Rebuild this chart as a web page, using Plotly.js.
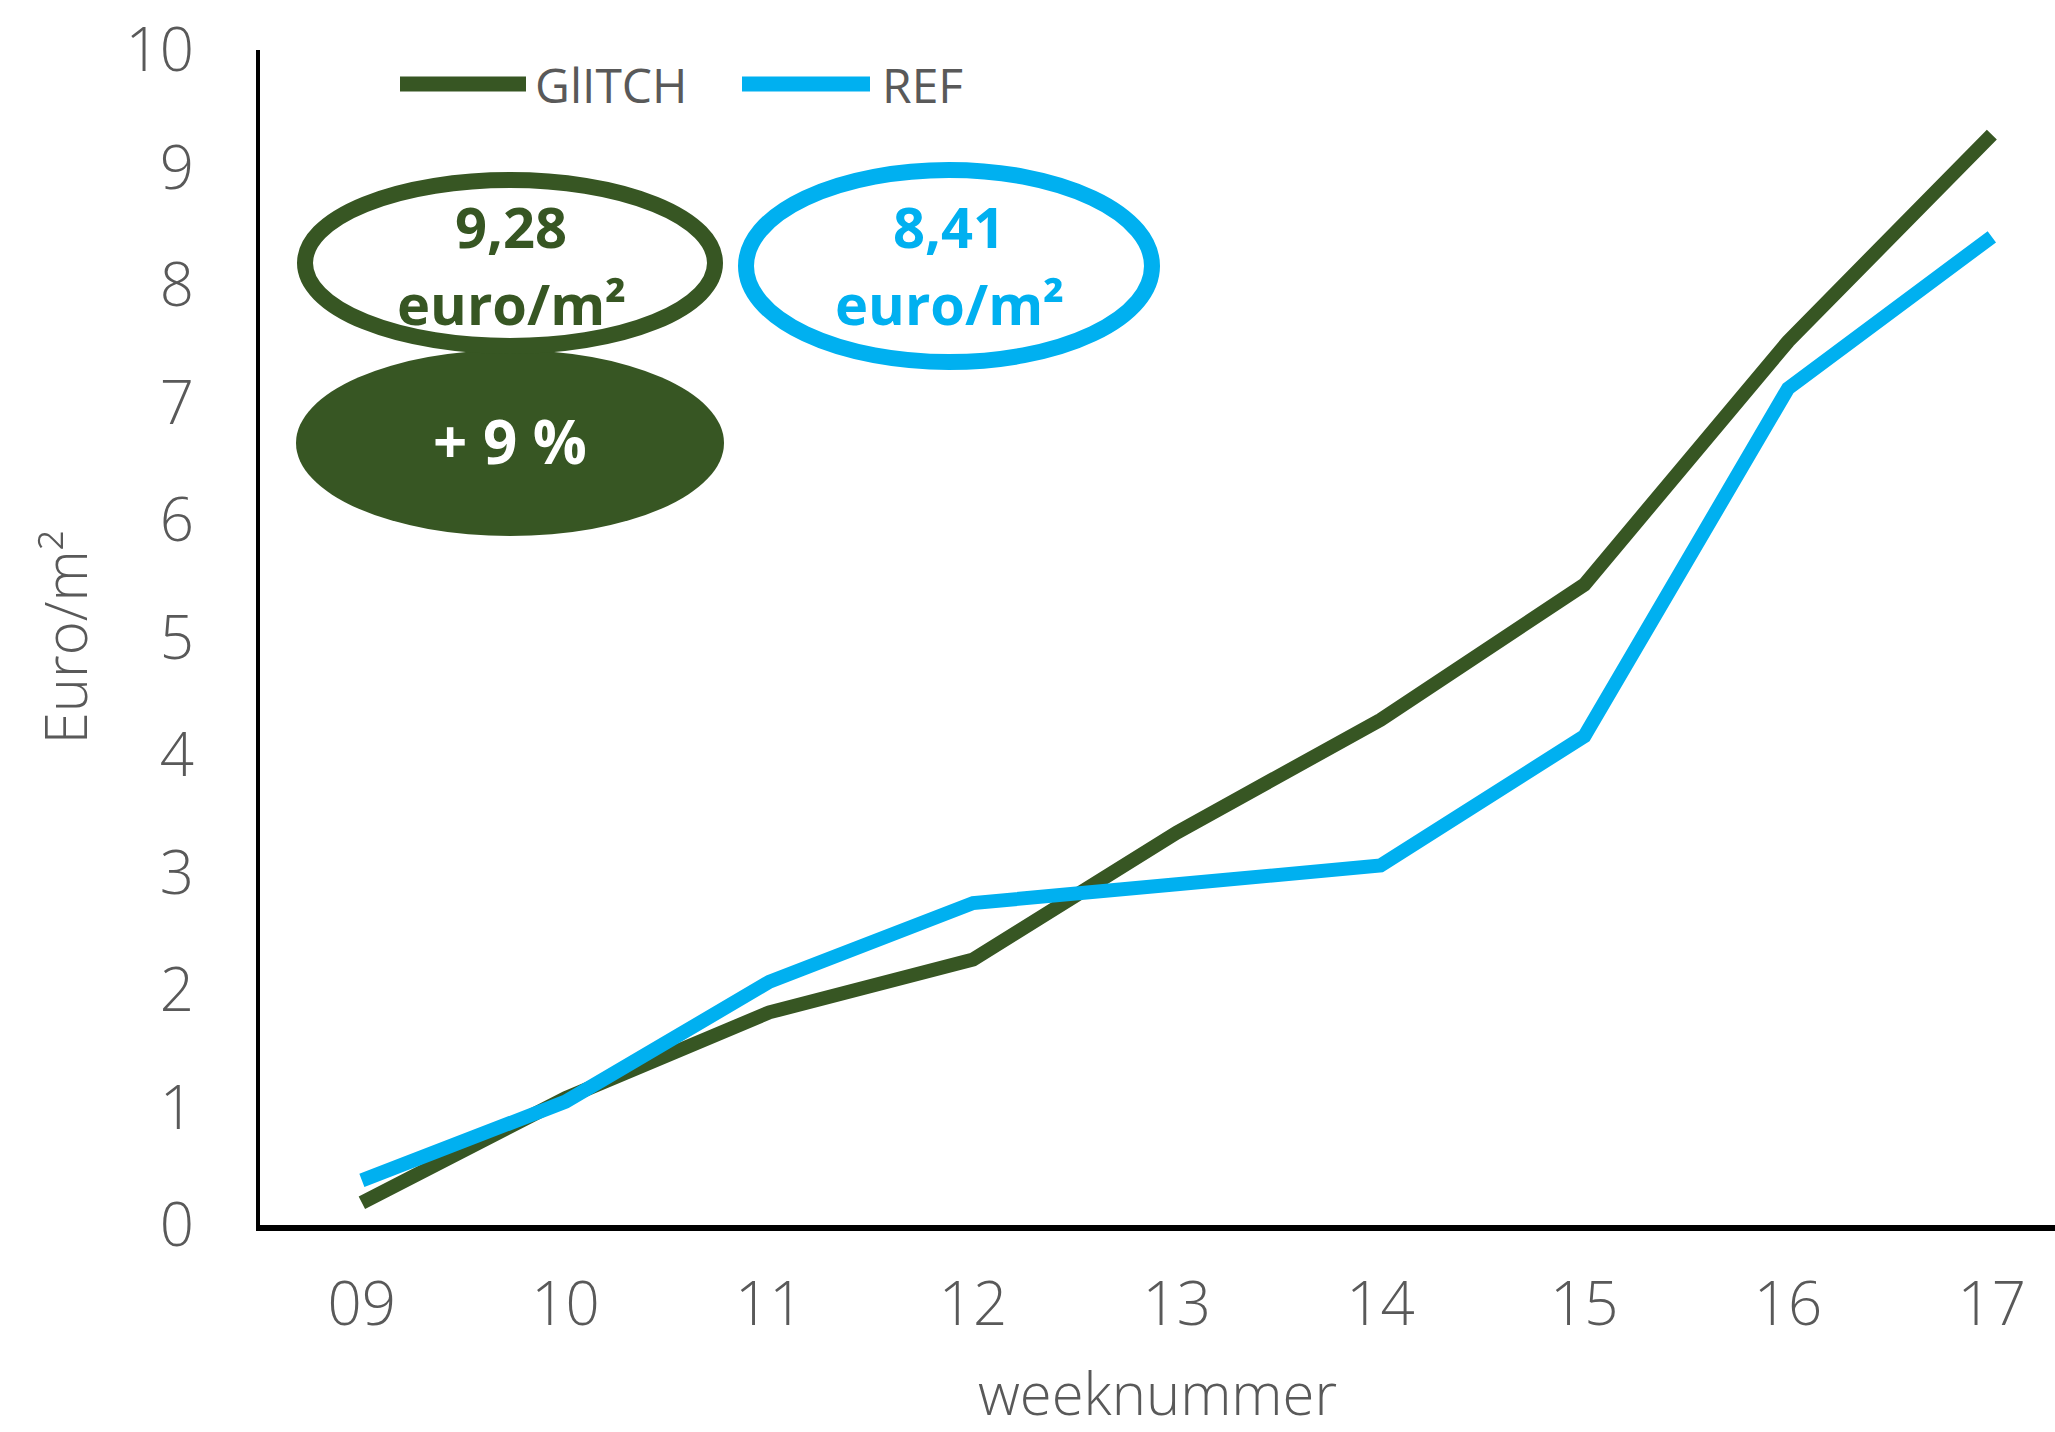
<!DOCTYPE html>
<html>
<head>
<meta charset="utf-8">
<script src="https://cdn.plot.ly/plotly-3.0.1.min.js"></script>
<style>html,body{margin:0;padding:0;background:#fff;}#chart{width:2055px;height:1432px;}</style>
</head>
<body>
<div id="chart"></div>
<script>
// ---- data ----
const weeks = ['09', '10', '11', '12', '13', '14', '15', '16', '17'];
const glitchValues = [0.19, 1.08, 1.81, 2.26, 3.34, 4.30, 5.45, 7.52, 9.28];
const refValues = [0.38, 1.05, 2.07, 2.74, 2.90, 3.06, 4.16, 7.12, 8.41];
const seriesNames = ['GlITCH', 'REF'];
const glitchLabel = ['9,28', 'euro/m²'];
const refLabel = ['8,41', 'euro/m²'];
const changeLabel = '+ 9 %';

// ---- styling ----
const W = 2055, H = 1432;
const M = {l: 260, r: 0, t: 50, b: 207};
const green = '#375623', blue = '#00B0F0', grey = '#595959';
const FONT = '"Open Sans", "Liberation Sans", sans-serif';
const pw = W - M.l - M.r, ph = H - M.t - M.b;
const px = x => (x - M.l) / pw;
const py = y => (H - M.b - y) / ph;

const traces = [
  {x: weeks, y: glitchValues, name: seriesNames[0], type: 'scatter', mode: 'lines',
   line: {color: green, width: 14}, cliponaxis: false, showlegend: false},
  {x: weeks, y: refValues, name: seriesNames[1], type: 'scatter', mode: 'lines',
   line: {color: blue, width: 14}, cliponaxis: false, showlegend: false}
];

function ell(x0, y0, x1, y1, lineColor, lw, fill) {
  return {type: 'circle', xref: 'paper', yref: 'paper',
    x0: px(x0), x1: px(x1), y0: py(y1), y1: py(y0),
    line: {color: lineColor, width: lw}, fillcolor: fill, layer: 'above'};
}
function hline(x0, x1, y, color) {
  return {type: 'line', xref: 'paper', yref: 'paper', x0: px(x0), x1: px(x1), y0: py(y), y1: py(y),
    line: {color: color, width: 15}};
}
function ann(text, x, y, color, size, bold, anchor) {
  return {text: bold ? '<b>' + text + '</b>' : text, xref: 'paper', yref: 'paper',
    x: px(x), y: py(y), xanchor: anchor || 'center', yanchor: 'middle', showarrow: false,
    font: {family: FONT, size: size, color: color}};
}

const shapes = [
  ell(296, 350, 724, 536, green, 0, green),
  ell(305, 180, 715, 346, green, 16, '#ffffff'),
  ell(746, 170, 1152, 362, blue, 16, '#ffffff'),
  hline(400, 526, 84, green),
  hline(742, 870, 84, blue)
];

const annotations = [
  ann(glitchLabel[0], 511, 226, green, 56, true),
  ann(glitchLabel[1], 511, 303, green, 56, true),
  ann(refLabel[0], 949, 226, blue, 56, true),
  ann(refLabel[1], 949, 303, blue, 56, true),
  ann(changeLabel, 510, 441, '#ffffff', 60, true),
  ann(seriesNames[0], 533, 84, grey, 48, false, 'left'),
  ann(seriesNames[1], 880, 84, grey, 48, false, 'left')
];

const layout = {
  width: W, height: H,
  margin: M,
  paper_bgcolor: '#ffffff', plot_bgcolor: '#ffffff',
  font: {family: FONT, color: grey},
  showlegend: false,
  xaxis: {
    type: 'category', range: [-0.5, 8.31],
    showline: true, linecolor: '#000000', linewidth: 6,
    showgrid: false, zeroline: false, ticks: '',
    tickfont: {family: FONT, size: 60, color: grey, weight: 300},
    ticklabelstandoff: 22,
    title: {text: 'weeknummer', font: {family: FONT, size: 58, color: grey, weight: 300}, standoff: 72}
  },
  yaxis: {
    range: [0, 10], dtick: 1, tick0: 0,
    showline: true, linecolor: '#000000', linewidth: 4,
    showgrid: false, zeroline: false, ticks: '',
    tickfont: {family: FONT, size: 60, color: grey, weight: 300},
    ticklabelstandoff: 50,
    title: {text: 'Euro/m²', font: {family: FONT, size: 58, color: grey, weight: 300}, standoff: 20}
  },
  shapes: shapes,
  annotations: annotations
};

Plotly.newPlot('chart', traces, layout, {displayModeBar: false, staticPlot: true});
</script>
</body>
</html>
